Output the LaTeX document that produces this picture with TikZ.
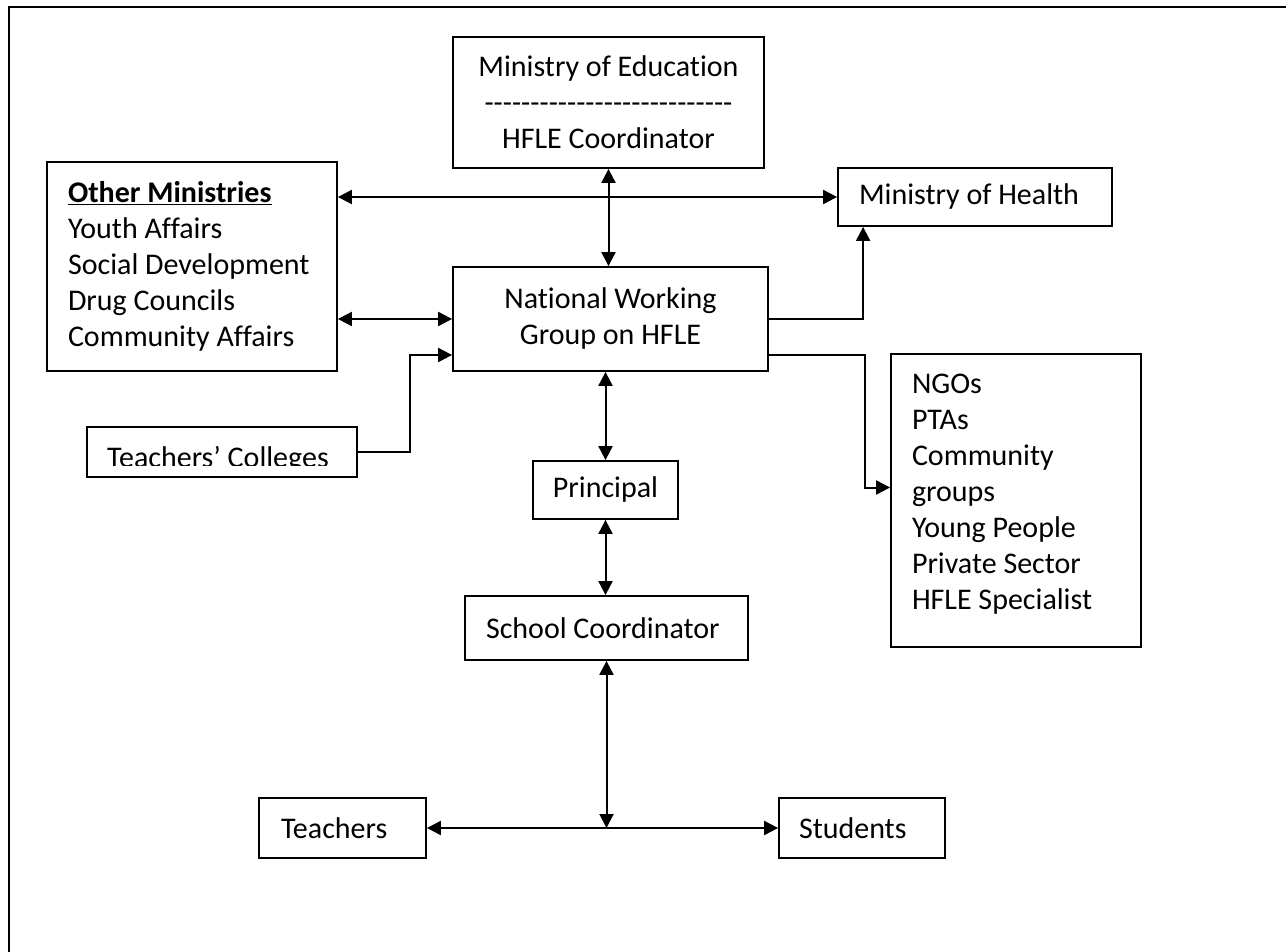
\documentclass[tikz,border=0pt]{standalone}
\usepackage{fontspec}
\setmainfont{Carlito}[Ligatures=NoCommon]
\usetikzlibrary{calc,positioning,arrows.meta}

\newcommand{\dashrow}{\foreach \i in {1,...,27}{-\kern0pt}}

\begin{document}
\begin{tikzpicture}[
		x=1pt, y=-1pt,
		<->, line width=2pt,
		>={Triangle[length=14pt, width=14pt]},
		font=\fontsize{30}{36}\selectfont,
		box/.style={draw, line width=1.8pt, inner sep=0pt},
		listbox/.style={box, align=flush left, inner xsep=21pt},
		]
		\useasboundingbox (0,0) rectangle (1286,952);
		\draw[-] (9,960) -- (9,7) -- (1300,7);
		
		\node[box, minimum width=311pt, minimum height=131pt, align=center] (moe) at (608.5,102.5) {Ministry of Education\\\dashrow\\HFLE Coordinator};
		\node[listbox, text width=248pt, minimum height=209pt] (om) at (192,266.5) {\underline{\textbf{Other Ministries}}\\Youth Affairs\\Social Development\\Drug Councils\\Community Affairs};
		\node[listbox, text width=232pt, minimum height=58pt] (moh) at (975,197) {Ministry of Health};
		\node[box, minimum width=315pt, minimum height=104pt, align=center] (nwg) at (610.5,319) {National Working\\Group on HFLE};
		\node[listbox, text width=208pt, minimum height=293pt] (ngo) at (1016,500.5) {NGOs\\PTAs\\Community\\groups\\Young People\\Private Sector\\HFLE Specialist\rule[-18pt]{0pt}{18pt}};
		\node[box, minimum width=145pt, minimum height=58pt] (prin) at (605.5,490) {Principal};
		\node[listbox, text width=241pt, minimum height=64pt] (sc) at (606.5,628) {School Coordinator};
		\node[listbox, text width=123pt, minimum height=60pt, inner xsep=22pt] (teach) at (342.5,828) {Teachers};
		\node[listbox, text width=126pt, minimum height=60pt, inner xsep=20pt] (stud) at (862,828) {Students};
		
		% the colleges box cuts its own text off at the bottom
		\node[box, minimum width=270pt, minimum height=50pt] (tc) at (222,452) {};
		\begin{scope}
			\clip (tc.north west) rectangle ($(tc.south east)+(0,-12)$);
			\node[anchor=base west, inner sep=0pt] (tctext) at ($(tc.south west)+(20,-10)$) {Teachers’ Colleges};
		\end{scope}
		
		\draw (moe.south) -- (moe.south |- nwg.north);
		\draw (moh.west -| om.east) -- (moh.west);
		\draw (nwg.west -| om.east) -- (nwg.west);
		\draw[->] (tc.east) -- ++(52,0) |- ($(nwg.west)+(0,36)$);
		\draw[->] (nwg.east) -| ($(moh.south west)+(26,0)$);
		\draw[->] ($(nwg.east)+(0,36)$) -- ++(96,0) |- ($(ngo.west)+(0,-13)$);
		\draw (prin.north |- nwg.south) -- (prin.north);
		\draw (prin.south) -- (prin.south |- sc.north);
		
		\coordinate (mid) at (sc.south |- teach.east);
		\draw (sc.south) -- (mid);
		\draw (teach.east) -- (stud.west);
		
	\end{tikzpicture}
\end{document}
